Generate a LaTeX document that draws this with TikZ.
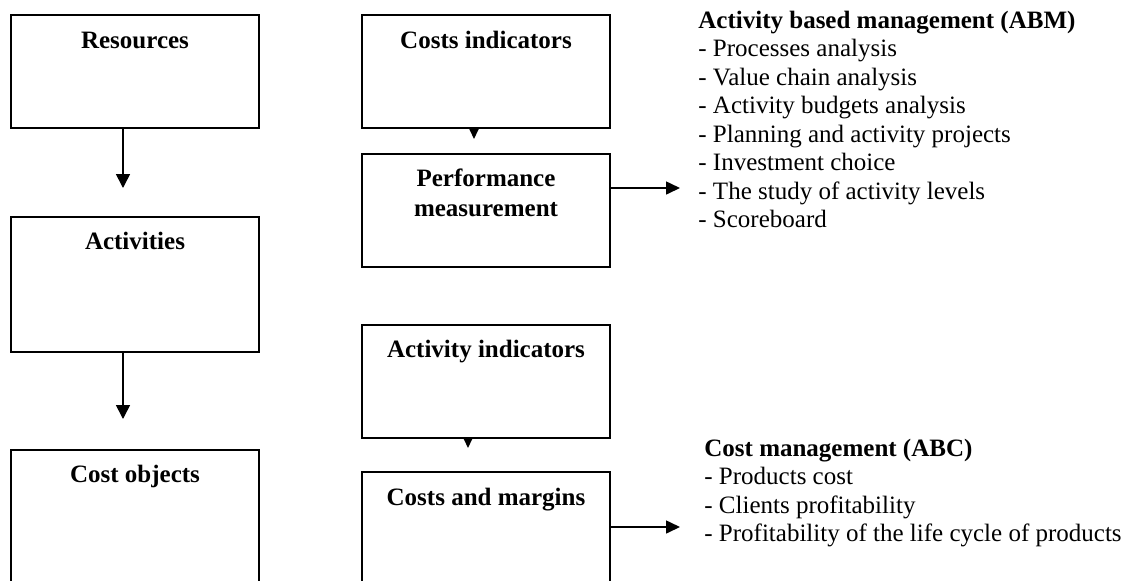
\documentclass[tikz,border=0pt]{standalone}
\usepackage{fontspec}
\setmainfont{Liberation Serif}
\usetikzlibrary{arrows.meta}
\begin{document}
\begin{tikzpicture}[x=0.5pt,y=-0.5pt,
  box/.style={draw=black, line width=1pt, minimum width=124pt, inner sep=0pt},
  lbl/.style={font=\fontsize{12.5pt}{15pt}\selectfont\bfseries, inner sep=0pt, anchor=base},
  lst/.style={font=\fontsize{12.5pt}{14.25pt}\selectfont, inner sep=0pt, anchor=base west},
  bigarr/.style={line width=0.8pt, -{Triangle[width=7pt,length=7pt]}},
  midarr/.style={line width=0.8pt, -{Triangle[width=6.5pt,length=7pt]}},
  smallarr/.style={line width=0.8pt, -{Triangle[width=5pt,length=5.5pt]}}]
\useasboundingbox (0,0) rectangle (1125,580);
\clip (0,0) rectangle (1125,580);
\fill[white] (0,0) rectangle (1125,580);

% left column
\node[box, minimum height=56.5pt] (res) at (135,71.5) {};
\node[box, minimum height=67.5pt] (act) at (135,284.5) {};
\node[box, minimum height=80pt] (cobj) at (135,530) {};
\node[lbl] (resl) at ([yshift=-17pt]res.north) {Resources};
\node[lbl] (actl) at ([yshift=-16.5pt]act.north) {Activities};
\node[lbl] (cobjl) at ([yshift=-16.5pt]cobj.north) {Cost objects};

% middle column
\node[box, minimum height=56.5pt] (ci) at (486,71.5) {};
\node[box, minimum height=56.5pt] (perf) at (486,210.5) {};
\node[box, minimum height=56.5pt] (ai) at (486,381.5) {};
\node[box, minimum height=70pt] (cm) at (486,542) {};
\node[lbl] (cil) at ([yshift=-17pt]ci.north) {Costs indicators};
\node[lbl] (perfl) at ([yshift=-16.5pt]perf.north) {\begin{tabular}[t]{@{}c@{}}Performance\\measurement\end{tabular}};
\node[lbl] (ail) at ([yshift=-16.5pt]ai.north) {Activity indicators};
\node[lbl] (cml) at ([yshift=-17pt]cm.north) {Costs and margins};

% arrows
\coordinate (t1) at (123,188);
\coordinate (t2) at (123,419);
\coordinate (t3) at (474,139);
\coordinate (t4) at (468,448);
\coordinate (r1) at (680,188);
\coordinate (r2) at (680,527);
\draw[bigarr] (res.south -| t1) -- (t1);
\draw[bigarr] (act.south -| t2) -- (t2);
\draw[smallarr] (ci.south -| t3) -- (t3);
\draw[smallarr] (ai.south -| t4) -- (t4);
\draw[midarr] (perf.east |- r1) -- (r1);
\draw[midarr] (cm.east |- r2) -- (r2);

% text blocks
\node[lst] (abm) at (698,28) {\begin{tabular}[t]{@{}l@{}}\textbf{Activity based management (ABM)}\\
- Processes analysis\\
- Value chain analysis\\
- Activity budgets analysis\\
- Planning and activity projects\\
- Investment choice\\
- The study of activity levels\\
- Scoreboard\end{tabular}};
\node[lst] (abc) at (704,456) {\begin{tabular}[t]{@{}l@{}}\textbf{Cost management (ABC)}\\
- Products cost\\
- Clients profitability\\
- Profitability of the life cycle of products\end{tabular}};
\end{tikzpicture}
\end{document}
